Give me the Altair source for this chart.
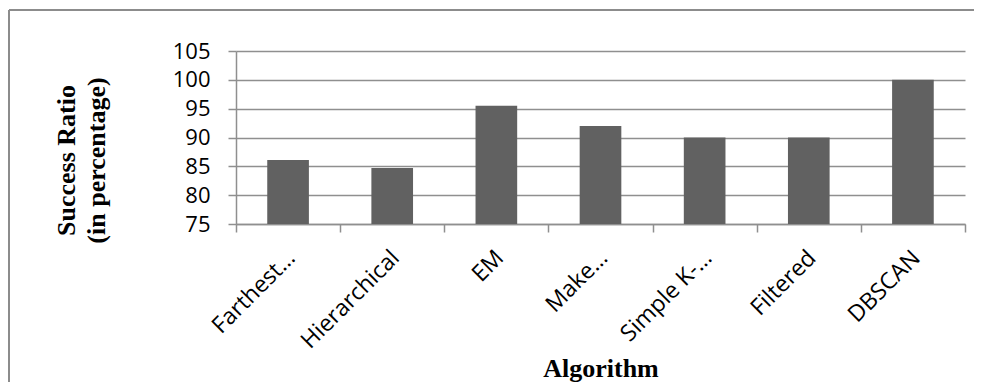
import altair as alt
import pandas as pd

algorithms = ["Farthest…", "Hierarchical", "EM", "Make…", "Simple K-…", "Filtered", "DBSCAN"]
success = [86.1, 84.7, 95.5, 92.0, 90.0, 90.0, 100.0]
y_ticks = [75, 80, 85, 90, 95, 100, 105]
y_min, y_max = 75, 105

df = pd.DataFrame({"Algorithm": algorithms, "Success": success})

W, H = 729, 173
GRID = "#8f8f8f"
LABEL_FONT = "Open Sans"
TITLE_FONT = "Liberation Serif"

bars = alt.Chart(df).mark_bar(color="#616161", width=alt.RelativeBandSize(0.4)).encode(
    x=alt.X(
        "Algorithm:N",
        sort=algorithms,
        scale=alt.Scale(paddingInner=0, paddingOuter=0),
        axis=alt.Axis(
            title="Algorithm",
            titleFont=TITLE_FONT, titleFontSize=26, titleFontWeight="bold", titleColor="black",
            titleX=W / 2, titleY=152, titleBaseline="alphabetic", titleAlign="center",
            labelFont=LABEL_FONT, labelFontSize=23, labelColor="black",
            labelAngle=-45, labelAlign="right", labelBaseline="middle", labelPadding=22,
            labelOffset=3,
            tickBand="extent", ticks=True, tickSize=8, tickColor=GRID, tickWidth=1.5,
            domainColor=GRID, domainWidth=1.5, grid=False,
        ),
    ),
    y=alt.Y(
        "Success:Q",
        scale=alt.Scale(domain=[y_min, y_max], nice=False, zero=False),
        axis=alt.Axis(
            title=["Success Ratio", "(in percentage)"],
            titleFont=TITLE_FONT, titleFontSize=26, titleFontWeight="bold", titleColor="black",
            titleAngle=270, titleAlign="center", titleBaseline="bottom", titleLineHeight=30,
            titleX=-157, titleY=109,
            values=y_ticks, labelFont=LABEL_FONT, labelFontSize=22, labelColor="black",
            labelPadding=18, tickSize=8, tickColor=GRID, tickWidth=1.5,
            domainColor=GRID, domainWidth=1.5, grid=True, gridColor=GRID, gridWidth=1.5,
        ),
    ),
    y2=alt.datum(y_min),
)

frame_data = alt.Data(values=[{}])
frame_top = alt.Chart(frame_data).mark_rule(stroke="#8c8c8c", strokeWidth=2).encode(
    x=alt.value(-227), x2=alt.value(W + 100), y=alt.value(-41),
)
frame_left = alt.Chart(frame_data).mark_rule(stroke="#8c8c8c", strokeWidth=2).encode(
    x=alt.value(-227), y=alt.value(-41), y2=alt.value(H + 300),
)

chart = alt.layer(frame_top, frame_left, bars).properties(
    width=W, height=H,
    autosize=alt.AutoSizeParams(type="none"),
    padding={"left": 228, "top": 43, "right": 9, "bottom": 158},
    background="white",
).configure_view(stroke=None)

chart.save("out.html", embed_options={"renderer": "svg", "actions": False})
